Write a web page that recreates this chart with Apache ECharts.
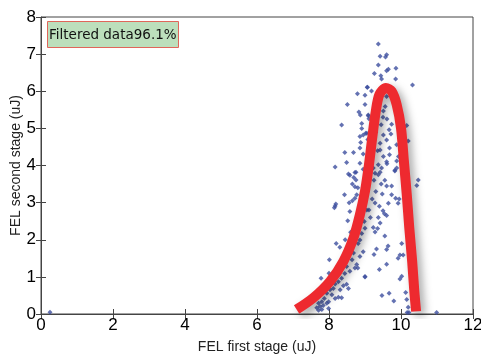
<!DOCTYPE html>
<html><head><meta charset="utf-8">
<script src="https://cdn.jsdelivr.net/npm/echarts@6/dist/echarts.min.js"></script>
<style>html,body{margin:0;padding:0;background:#fff}#c{width:481px;height:354px}</style>
</head><body><div id="c"></div>
<script>
var xTicks = [0, 2, 4, 6, 8, 10, 12];
var yTicks = [0, 1, 2, 3, 4, 5, 6, 7, 8];
var legendText = 'Filtered data96.1%';
var xName = 'FEL first stage (uJ)';
var yName = 'FEL second stage (uJ)';

var scatterX = [
0.25,
9.06,8.79,9.0,8.51,9.0,8.83,8.87,9.09,8.35,8.91,8.91,9.02,8.95,8.86,9.08,8.88,8.86,8.44,8.68,8.95,8.49,8.86,8.17,8.75,8.54,
9.37,9.42,9.6,9.57,9.37,9.65,9.6,9.86,9.26,9.44,9.46,9.85,10.32,9.07,9.18,9.6,9.56,9.51,9.09,9.11,9.61,9.74,9.67,10.16,9.72,9.51,9.05,10.2,9.88,9.6,9.42,9.68,9.18,9.42,9.51,9.68,9.93,9.88,9.6,9.61,9.37,9.46,9.23,9.83,9.88,9.42,
8.72,8.58,8.69,8.75,8.72,8.8,8.43,8.77,8.72,8.56,8.65,8.17,8.19,8.15,9.05,8.58,8.52,8.98,9.0,8.91,8.86,8.81,8.95,8.68,8.86,8.01,8.64,8.77,8.72,8.49,8.8,9.0,8.58,8.44,8.35,7.78,8.26,8.49,8.4,8.54,8.17,8.12,8.31,8.03,7.94,8.08,7.87,8.17,8.26,8.35,7.8,7.99,7.71,7.75,7.66,7.84,7.94,7.71,7.8,7.99,
9.37,9.28,9.83,10.48,10.44,9.6,9.74,9.48,9.74,9.85,9.95,9.92,9.28,9.65,9.11,9.5,9.54,9.6,9.37,9.42,9.23,9.28,10.02,9.64,9.6,9.32,9.97,9.92,10.06,9.6,10.02,9.97,9.0,10.13,9.67,9.47,10.16,9.8,10.2,10.22,10.17,10.99,
9.3,9.35,9.45,9.2,9.25,9.55,9.15,9.3,9.4,9.5,9.1,9.2,9.35,9.45,9.55,8.95,9.05,9.15,9.25,9.4,8.9,8.6,8.3,8.0,7.9,8.1,8.2,8.45,8.65,8.85
];
var scatterY = [
0.05,
6.11,5.93,5.89,5.64,5.64,5.44,5.36,5.34,5.09,5.13,5.0,4.87,4.82,4.78,4.7,4.62,4.47,4.35,4.35,4.31,4.08,4.06,3.96,3.82,3.77,
7.27,6.94,6.98,6.92,6.71,6.59,6.55,6.62,6.48,6.42,6.33,6.33,6.17,6.11,6.01,5.86,5.59,5.47,5.36,5.26,5.25,5.11,4.96,5.08,4.85,4.82,4.87,4.66,4.56,4.69,4.6,4.47,4.42,4.42,4.24,4.29,4.24,4.12,4.1,4.05,4.02,3.93,3.93,3.85,3.93,3.82,
3.81,3.74,3.68,3.61,3.43,3.4,3.21,3.21,3.12,3.0,3.05,2.91,2.96,2.86,2.8,2.76,2.51,2.49,2.31,2.17,1.99,1.9,1.68,1.64,1.55,1.46,1.46,1.33,1.24,1.28,1.24,1.01,1.15,1.09,0.96,0.96,0.87,0.8,0.76,0.69,0.81,0.69,0.65,0.65,0.56,0.52,0.42,0.42,0.45,0.44,0.33,0.33,0.29,0.2,0.17,0.23,0.29,0.1,0.12,0.15,
3.75,3.79,3.87,3.61,3.46,3.45,3.45,3.23,3.21,3.12,3.1,2.98,2.99,2.98,2.8,2.78,2.7,2.65,2.6,2.45,2.33,2.21,1.9,1.83,1.74,1.75,1.59,1.5,1.59,1.34,1.02,0.94,1.0,0.58,0.56,0.5,0.39,0.35,0.18,0.04,0.04,0.04,
4.9,4.4,5.1,4.6,3.6,3.6,4.25,3.3,2.9,5.3,4.0,3.1,2.3,3.5,2.1,3.9,3.3,2.6,1.6,1.2,2.7,2.2,1.8,1.1,0.75,0.95,1.9,2.0,3.5,2.4
];

var curveX = [7.10,7.56,8.03,8.40,8.68,8.86,9.00,9.11,9.20,9.30,9.40,9.58,9.74,9.88,10.00,10.08,10.16,10.23,10.31,10.37,10.42];
var curveY = [0.12,0.43,0.88,1.42,2.05,2.68,3.31,4.02,4.74,5.46,5.91,6.09,6.00,5.64,5.01,4.12,3.22,2.32,1.42,0.61,0.07];

var scatterData = scatterX.map(function(x,i){return [x, scatterY[i]];});
var curveData = curveX.map(function(x,i){return [x, curveY[i]];});

var chart = echarts.init(document.getElementById('c'), null, {renderer:'canvas'});
var axisFont = {fontFamily:'Liberation Sans', fontSize:17, color:'#000'};
chart.setOption({
  animation:false,
  title:{
    text: legendText, left:47, top:21,
    backgroundColor:'#bcdfbc', borderColor:'#e0665a', borderWidth:1,
    padding:[7,2,6,2],
    textStyle:{fontFamily:'DejaVu Sans', fontSize:13.5, fontWeight:'normal', color:'#111'}
  },
  grid:{left:41, right:8, top:17, bottom:40, outerBoundsMode:'none', containLabel:false,
        show:true, borderColor:'#444', borderWidth:1, backgroundColor:'transparent'},
  xAxis:[{
    type:'value', min:0, max:12, interval:2,
    name:xName, nameLocation:'middle', nameGap:26, nameMoveOverlap:false,
    nameTextStyle:{fontFamily:'Liberation Sans', fontSize:14, color:'#222'},
    axisLine:{show:true, lineStyle:{color:'#444'}},
    axisTick:{show:true, inside:true, length:5, lineStyle:{color:'#444'}},
    axisLabel:Object.assign({margin:3, formatter:function(v){return xTicks.indexOf(v)>=0?String(v):'';}}, axisFont),
    splitLine:{show:false}
  },{
    type:'value', min:0, max:12, interval:2, position:'top',
    axisLine:{show:false}, axisTick:{show:true, inside:true, length:5, lineStyle:{color:'#444'}},
    axisLabel:{show:false}, splitLine:{show:false}
  }],
  yAxis:[{
    type:'value', min:0, max:8, interval:1,
    name:yName, nameLocation:'middle', nameGap:18, nameMoveOverlap:false,
    nameTextStyle:{fontFamily:'Liberation Sans', fontSize:14, color:'#222'},
    axisLine:{show:true, lineStyle:{color:'#444'}},
    axisTick:{show:true, inside:true, length:5, lineStyle:{color:'#444'}},
    axisLabel:Object.assign({margin:5, formatter:function(v){return yTicks.indexOf(v)>=0?String(v):'';}}, axisFont),
    splitLine:{show:false}
  },{
    type:'value', min:0, max:8, interval:1, position:'right',
    axisLine:{show:false}, axisTick:{show:true, inside:true, length:5, lineStyle:{color:'#444'}},
    axisLabel:{show:false}, splitLine:{show:false}
  }],
  series:[{
    type:'scatter', data:scatterData, symbol:'diamond', symbolSize:5,
    itemStyle:{color:'#3d4f9f'}, z:2
  },{
    type:'line', data:curveData, smooth:0.3, showSymbol:false, symbol:'none',
    lineStyle:{color:'#ee2a2f', width:10, cap:'butt', join:'round', shadowColor:'rgba(0,0,0,0.35)', shadowBlur:8, shadowOffsetX:4, shadowOffsetY:4},
    z:3
  }]
});
</script></body></html>
